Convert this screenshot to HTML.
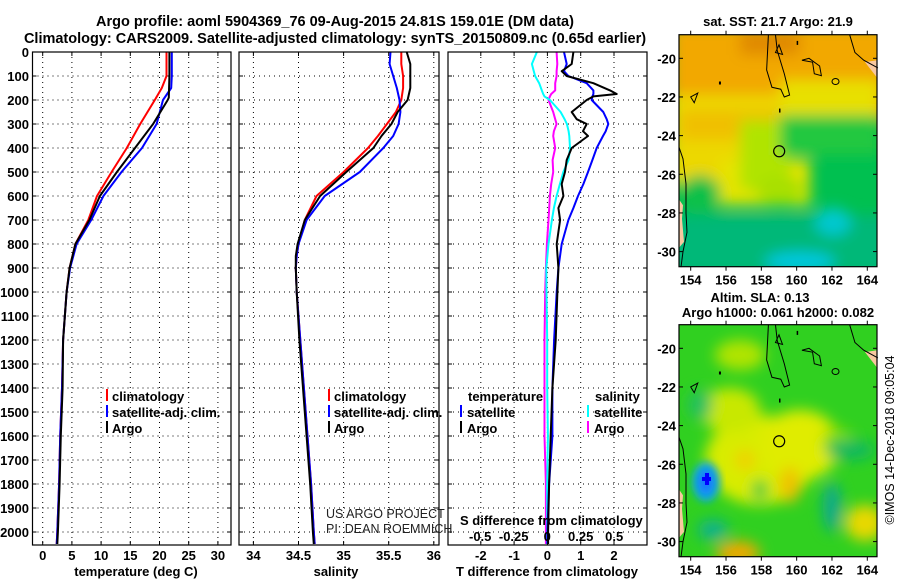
<!DOCTYPE html>
<html><head><meta charset="utf-8">
<style>
html,body{margin:0;padding:0;background:#fff;}
svg{display:block;font-family:"Liberation Sans",Arial,sans-serif;}
.b{font-weight:bold;}
</style></head>
<body>
<svg id="fig" width="900" height="580" viewBox="0 0 900 580" xmlns="http://www.w3.org/2000/svg">
<defs>
<filter id="blur8" x="-20%" y="-20%" width="140%" height="140%"><feGaussianBlur stdDeviation="7"/></filter>
<filter id="blur4" x="-20%" y="-20%" width="140%" height="140%"><feGaussianBlur stdDeviation="4"/></filter>
<clipPath id="clipTop"><rect x="679" y="35" width="198" height="232"/></clipPath>
<clipPath id="clipBot"><rect x="679" y="325" width="198" height="232"/></clipPath>
</defs>
<text x="335" y="26" text-anchor="middle" font-size="14.5" class="b">Argo profile: aoml 5904369_76 09-Aug-2015 24.81S 159.01E (DM data)</text>
<text x="335" y="43" text-anchor="middle" font-size="14.5" class="b">Climatology: CARS2009. Satellite-adjusted climatology: synTS_20150809.nc (0.65d earlier)</text>

<g id="p1"></g>
<g id="p2"></g>
<g id="p3"></g>
<g id="yax"></g>

<g font-size="13" class="b">
<rect x="106" y="389" width="2" height="12" fill="#f00"/><text x="112" y="401">climatology</text>
<rect x="106" y="405" width="2" height="12" fill="#00f"/><text x="112" y="417">satellite-adj. clim.</text>
<rect x="106" y="421" width="2" height="12" fill="#000"/><text x="112" y="433">Argo</text>
</g>
<g font-size="13" class="b">
<rect x="328" y="389" width="2" height="12" fill="#f00"/><text x="334" y="401">climatology</text>
<rect x="328" y="405" width="2" height="12" fill="#00f"/><text x="334" y="417">satellite-adj. clim.</text>
<rect x="328" y="421" width="2" height="12" fill="#000"/><text x="334" y="433">Argo</text>
</g>
<g font-size="13" class="b">
<text x="468" y="401">temperature</text>
<rect x="460" y="405" width="2" height="12" fill="#00f"/><text x="467" y="417">satellite</text>
<rect x="460" y="421" width="2" height="12" fill="#000"/><text x="467" y="433">Argo</text>
<text x="595" y="401">salinity</text>
<rect x="587" y="405" width="2" height="12" fill="#0ff"/><text x="594" y="417">satellite</text>
<rect x="587" y="421" width="2" height="12" fill="#f0f"/><text x="594" y="433">Argo</text>
</g>
<text x="326" y="518" font-size="12.5" fill="#222">US ARGO PROJECT</text>
<text x="326" y="533" font-size="12.5" fill="#222">PI: DEAN ROEMMICH</text>
<text x="460" y="525" font-size="13" class="b">S difference from climatology</text>
<text x="136" y="576" text-anchor="middle" font-size="13" class="b">temperature (deg C)</text>
<text x="336" y="576" text-anchor="middle" font-size="13" class="b">salinity</text>
<text x="547" y="576" text-anchor="middle" font-size="13" class="b">T difference from climatology</text>

<text x="778" y="26" text-anchor="middle" font-size="13" class="b">sat. SST: 21.7 Argo: 21.9</text>
<g clip-path="url(#clipTop)">
<rect x="679" y="35" width="198" height="232" fill="#00c050"/>
<g filter="url(#blur8)">
<rect x="670" y="25" width="220" height="95" fill="#f2a800"/>
<rect x="740" y="30" width="60" height="25" fill="#e08a00"/>
<rect x="670" y="95" width="110" height="90" fill="#ecd800"/>
<rect x="780" y="80" width="100" height="35" fill="#e8e000"/>
<rect x="680" y="110" width="100" height="30" fill="#f0c000"/>
<rect x="720" y="160" width="90" height="45" fill="#e6e400"/>
<rect x="740" y="120" width="50" height="70" fill="#b0e400"/>
<rect x="780" y="115" width="100" height="40" fill="#20c840"/>
<ellipse cx="780" cy="190" rx="25" ry="15" fill="#a8e000"/>
<rect x="670" y="215" width="220" height="60" fill="#00b878"/>
<ellipse cx="833" cy="222" rx="18" ry="14" fill="#00c8d0"/>
<ellipse cx="800" cy="262" rx="35" ry="10" fill="#00c8e0"/>
<ellipse cx="700" cy="195" rx="20" ry="20" fill="#10c048"/>
</g>
</g>
<g id="mapTopDecor"></g>

<text x="760" y="302" text-anchor="middle" font-size="13" class="b">Altim. SLA: 0.13</text>
<text x="778" y="317" text-anchor="middle" font-size="13" class="b">Argo h1000: 0.061 h2000: 0.082</text>
<g clip-path="url(#clipBot)">
<rect x="679" y="325" width="198" height="232" fill="#30d020"/>
<g filter="url(#blur8)">
<ellipse cx="760" cy="460" rx="55" ry="45" fill="#d8ec00"/>
<ellipse cx="730" cy="410" rx="30" ry="22" fill="#c8e800"/>
<ellipse cx="800" cy="445" rx="40" ry="35" fill="#e0ec00"/>
<ellipse cx="790" cy="485" rx="10" ry="18" fill="#f0c000"/>
<ellipse cx="745" cy="460" rx="10" ry="10" fill="#f0d000"/>
<ellipse cx="760" cy="490" rx="8" ry="10" fill="#20c840"/>
<ellipse cx="740" cy="355" rx="25" ry="15" fill="#b0e400"/>
<ellipse cx="838" cy="440" rx="15" ry="12" fill="#80dc00"/>
<ellipse cx="865" cy="523" rx="20" ry="18" fill="#e8d800"/>
<ellipse cx="738" cy="553" rx="22" ry="12" fill="#f0a800"/>
<ellipse cx="832" cy="507" rx="9" ry="25" fill="#10a890"/>
<ellipse cx="713" cy="530" rx="15" ry="10" fill="#10b090"/>
<ellipse cx="700" cy="405" rx="12" ry="15" fill="#20c060"/>
<ellipse cx="850" cy="450" rx="25" ry="10" fill="#10b860"/>
</g>
<g filter="url(#blur4)">
<ellipse cx="706" cy="482" rx="14" ry="20" fill="#10a8e0"/>
<ellipse cx="706" cy="482" rx="8" ry="12" fill="#1878ff"/>
</g>
<rect x="702" y="477" width="9" height="4" fill="#0000ff"/>
<rect x="705" y="473" width="4" height="12" fill="#0000ff"/>
</g>
<g id="mapBotDecor"></g>
<text transform="translate(894,440) rotate(-90)" text-anchor="middle" font-size="12.5">©IMOS 14-Dec-2018 09:05:04</text>
</svg>

<script>
// ---------- data ----------
const depthsT = [0,100,150,200,300,400,500,600,700,800,900,1000,1200,1400,1600,1800,2000,2050];
const tempClim = [21.2,21.2,20.4,19.2,16.7,14.4,11.8,9.3,7.8,5.6,4.6,4.1,3.5,3.3,3.0,2.8,2.5,2.4];
const tempSat = [22.1,22.1,22.0,20.6,19.5,17.0,13.5,10.4,8.3,5.8,4.7,4.1,3.5,3.3,3.0,2.8,2.5,2.4];
const depthsArgo = [0,100,190,200,300,400,500,600,700,800,900,1000,1200,1400,1600,1800,2000,2050];
const tempArgo = [21.7,21.7,21.6,21.4,18.9,15.8,12.7,9.8,8.0,5.6,4.6,4.1,3.5,3.4,3.1,2.9,2.6,2.5];

const depthsS = [0,50,100,150,200,250,300,350,400,500,600,700,800,850,900,1000,1200,1400,1600,1800,2000,2050];
const salClim = [35.64,35.64,35.66,35.66,35.64,35.58,35.48,35.38,35.27,35.0,34.70,34.57,34.50,34.48,34.47,34.48,34.52,34.56,34.60,34.64,34.67,34.68];
const salSat = [35.52,35.51,35.55,35.59,35.62,35.63,35.61,35.55,35.44,35.18,34.79,34.59,34.50,34.48,34.47,34.48,34.52,34.56,34.60,34.64,34.67,34.68];
const salArgo = [35.70,35.74,35.74,35.74,35.71,35.60,35.53,35.42,35.33,35.03,34.74,34.57,34.49,34.47,34.47,34.48,34.51,34.55,34.59,34.63,34.66,34.67];

const depthsD = [0,50,80,100,130,160,175,185,200,250,280,300,330,350,400,450,500,550,600,650,700,800,900,1000,1200,1400,1600,1800,2000,2050];
const dTSat = [0.5,0.58,0.5,0.63,1.18,1.38,1.38,1.35,1.33,1.68,1.78,1.83,1.75,1.67,1.48,1.35,1.22,1.08,0.92,0.78,0.63,0.43,0.33,0.28,0.2,0.15,0.15,0.05,0.0,0.0];
const dTArgo = [0.78,0.73,0.43,0.58,1.38,1.88,2.08,1.38,1.18,0.73,0.88,1.18,1.07,1.22,0.73,0.58,0.53,0.43,0.48,0.33,0.38,0.28,0.33,0.3,0.25,0.15,0.1,0.05,0.02,0.02];
const dSSat = [-0.077,-0.114,-0.1,-0.09,-0.06,-0.04,-0.03,-0.02,0.02,0.1,0.13,0.147,0.16,0.165,0.17,0.16,0.12,0.095,0.07,0.05,0.035,0.01,-0.007,-0.005,0.0,0.0,0.005,0.0,0.0,0.0];
const dSArgo = [0.07,0.075,0.07,0.07,0.06,0.06,0.03,0.02,0.01,0.045,0.06,0.07,0.05,0.045,0.06,0.04,0.045,0.03,0.02,0.015,0.01,-0.002,-0.01,-0.015,-0.02,-0.02,-0.02,-0.01,-0.01,-0.01];

const depthTicks = [0,100,200,300,400,500,600,700,800,900,1000,1100,1200,1300,1400,1500,1600,1700,1800,1900,2000];
const tempTicks = [0,5,10,15,20,25,30];
const salTicks = [34,34.5,35,35.5,36];
const salTickLabels = ['34','34.5','35','35.5','36'];
const dTTicks = [-2,-1,0,1,2];
const dSTicks = [-0.5,-0.25,0,0.25,0.5];
const dSTickLabels = ['-0.5','-0.25','0','0.25','0.5'];
const lonTicks = [154,156,158,160,162,164];
const latTicks = [-20,-22,-24,-26,-28,-30];

// ---------- scales ----------
const TOP=52, BOT=545;
const yD = d => TOP + d*0.24;
const xT = t => 42.7 + t*5.84;
const xS = s => 253.4 + (s-34)*90.2;
const xdT = t => 547.4 + t*33.3;
const xdS = s => 547.2 + s*134;
const NS='http://www.w3.org/2000/svg';
function mk(tag, attrs, parent){const e=document.createElementNS(NS,tag);for(const k in attrs)e.setAttribute(k,attrs[k]);parent.appendChild(e);return e;}

function panel(g, x0, x1, xs, ticks, labels, gridTicks){
  mk('rect',{x:x0,y:TOP,width:x1-x0,height:BOT-TOP,fill:'#fff'},g);
  depthTicks.forEach(d=>{
    const l=mk('line',{x1:x0,x2:x1,y1:yD(d),y2:yD(d),stroke:'#000','stroke-width':1,'stroke-dasharray':'1,4'},g);
    
    
    mk('line',{x1:x0,x2:x0+4,y1:yD(d),y2:yD(d),stroke:'#000'},g);
    mk('line',{x1:x1-4,x2:x1,y1:yD(d),y2:yD(d),stroke:'#000'},g);
  });
  gridTicks.forEach(v=>{
    const x=xs(v);
    const l=mk('line',{x1:x,x2:x,y1:TOP,y2:BOT,stroke:'#000','stroke-width':1,'stroke-dasharray':'1,4'},g);
    
    
    mk('line',{x1:x,x2:x,y1:TOP,y2:TOP+4,stroke:'#000'},g);
    mk('line',{x1:x,x2:x,y1:BOT-4,y2:BOT,stroke:'#000'},g);
  });
  ticks.forEach((v,i)=>{
    const t=mk('text',{x:xs(v),y:560,'text-anchor':'middle','font-size':13,'font-weight':'bold'},g);
    t.textContent=labels[i];
    
    
  });
}
function line(g, xs, vals, depths, color, w, name){
  const pts=vals.map((v,i)=>xs(v).toFixed(1)+','+yD(depths[i]).toFixed(1)).join(' ');
  const p=mk('polyline',{points:pts,fill:'none',stroke:color,'stroke-width':w,'stroke-linejoin':'round'},g);
  
  
}
function frame(g,x0,x1){mk('rect',{x:x0,y:TOP,width:x1-x0,height:BOT-TOP,fill:'none',stroke:'#000','stroke-width':1.2},g);}

const p1=document.getElementById('p1'), p2=document.getElementById('p2'), p3=document.getElementById('p3');
panel(p1,32.5,231,xT,tempTicks,tempTicks.map(String),tempTicks);
line(p1,xT,tempClim,depthsT,'#f00',2,'temperature-climatology-line');
line(p1,xT,tempSat,depthsT,'#00f',2,'temperature-satellite-line');
line(p1,xT,tempArgo,depthsArgo,'#000',2,'temperature-argo-line');
frame(p1,32.5,231);

panel(p2,239,439,xS,salTicks,salTickLabels,salTicks);
line(p2,xS,salClim,depthsS,'#f00',2,'salinity-climatology-line');
line(p2,xS,salSat,depthsS,'#00f',2,'salinity-satellite-line');
line(p2,xS,salArgo,depthsS,'#000',2,'salinity-argo-line');
frame(p2,239,439);

panel(p3,448,647,xdT,dTTicks,dTTicks.map(String),dTTicks);
line(p3,xdS,dSArgo,depthsD,'#f0f',2,'s-diff-argo-line');
line(p3,xdS,dSSat,depthsD,'#0ff',2,'s-diff-satellite-line');
line(p3,xdT,dTSat,depthsD,'#00f',2,'t-diff-satellite-line');
line(p3,xdT,dTArgo,depthsD,'#000',2,'t-diff-argo-line');
frame(p3,448,647);
dSTicks.forEach((v,i)=>{
  const t=mk('text',{x:xdS(v),y:541,'text-anchor':'middle','font-size':13,'font-weight':'bold'},p3);
  t.textContent=dSTickLabels[i];
  
  
});

const yax=document.getElementById('yax');
depthTicks.forEach(d=>{
  const t=mk('text',{x:29,y:yD(d)+5,'text-anchor':'end','font-size':13,'font-weight':'bold'},yax);
  t.textContent=String(d);
  
  
});

// ---------- maps ----------
const MX0=679, MX1=877;
const xLon = lon => 690.7 + (lon-154)*17.66;
function mapDecor(gid, top){
  const g=document.getElementById(gid);
  const yLat = lat => top+23.6 + (-20-lat)*19.33;
  mk('path',{d:`M${MX0} ${yLat(-27.3)} L${MX0+4} ${yLat(-27.6)} L${MX0+3} ${yLat(-28.3)} L${MX0+5} ${yLat(-29.5)} L${MX0} ${yLat(-29.8)} Z`,fill:'#f8c8a0'},g);
  mk('path',{d:`M${MX1} ${yLat(-20.1)} L${MX1-12} ${yLat(-20.2)} L${MX1} ${yLat(-21)} Z`,fill:'#f8c8a0'},g);
  const c={fill:'none',stroke:'#000','stroke-width':1};
  mk('path',Object.assign({d:`M${MX0} ${yLat(-24.6)} L${MX0+4} ${yLat(-25.2)} L${MX0+7} ${yLat(-26.5)} L${MX0+7} ${yLat(-28)} L${MX0+8} ${yLat(-29)} L${MX0+4} ${yLat(-30)} L${MX0+2} ${yLat(-30.8)}`},c),g);
  mk('path',Object.assign({d:`M${xLon(158.4)} ${top} L${xLon(158.3)} ${yLat(-20.6)} L${xLon(158.6)} ${yLat(-21.5)} L${xLon(159.1)} ${yLat(-21.6)} L${xLon(159.3)} ${yLat(-22)} L${xLon(159.6)} ${yLat(-21.9)} L${xLon(159.3)} ${yLat(-20.8)} L${xLon(158.9)} ${yLat(-19.6)} L${xLon(158.8)} ${top}`},c),g);
  mk('path',Object.assign({d:`M${xLon(159.2)} ${yLat(-19.8)} L${xLon(159.0)} ${yLat(-19.3)} L${xLon(158.8)} ${yLat(-19.7)} Z`},c),g);
  mk('path',Object.assign({d:`M${xLon(160.3)} ${yLat(-20.1)} L${xLon(160.9)} ${yLat(-20.2)} L${xLon(161.0)} ${yLat(-20.8)} L${xLon(161.4)} ${yLat(-20.9)} L${xLon(161.3)} ${yLat(-20.4)} L${xLon(160.7)} ${yLat(-20.0)} Z`},c),g);
  mk('ellipse',Object.assign({cx:xLon(162.2),cy:yLat(-21.2),rx:3.5,ry:3},c),g);
  mk('path',Object.assign({d:`M${xLon(154)} ${yLat(-22.0)} L${xLon(154.4)} ${yLat(-21.8)} L${xLon(154.2)} ${yLat(-22.3)} Z`},c),g);
  mk('path',Object.assign({d:`M${xLon(163)} ${top} L${xLon(163.3)} ${yLat(-19.7)} L${xLon(163.8)} ${yLat(-20.1)} L${xLon(164.6)} ${yLat(-20.5)}`},c),g);
  mk('rect',{x:xLon(159),y:yLat(-22.6),width:1.5,height:4,fill:'#000'},g);
  mk('rect',{x:xLon(155.6),y:yLat(-21.2),width:2,height:3,fill:'#000'},g);
  mk('rect',{x:xLon(160),y:yLat(-19.1),width:1.5,height:4,fill:'#000'},g);
  const ac=mk('circle',{cx:xLon(159.01),cy:yLat(-24.81),r:5.5,fill:'none',stroke:'#000','stroke-width':1.2},g);
  
  
  mk('rect',{x:MX0,y:top,width:MX1-MX0,height:232,fill:'none',stroke:'#000','stroke-width':1.2},g);
  lonTicks.forEach(l=>{
    mk('line',{x1:xLon(l),x2:xLon(l),y1:top,y2:top-4,stroke:'#000'},g);
    mk('line',{x1:xLon(l),x2:xLon(l),y1:top+232,y2:top+236,stroke:'#000'},g);
    const t=mk('text',{x:xLon(l),y:top+250,'text-anchor':'middle','font-size':13,'font-weight':'bold'},g);
    t.textContent=String(l);
    
    
  });
  latTicks.forEach(l=>{
    mk('line',{x1:MX1-4,x2:MX1,y1:yLat(l),y2:yLat(l),stroke:'#000'},g);
    mk('line',{x1:MX0,x2:MX0+4,y1:yLat(l),y2:yLat(l),stroke:'#000'},g);
    const t=mk('text',{x:MX0-3,y:yLat(l)+5,'text-anchor':'end','font-size':13,'font-weight':'bold'},g);
    t.textContent=String(l);
    
    
  });
}
mapDecor('mapTopDecor',34.7);
mapDecor('mapBotDecor',324.7);
</script>
</body></html>
